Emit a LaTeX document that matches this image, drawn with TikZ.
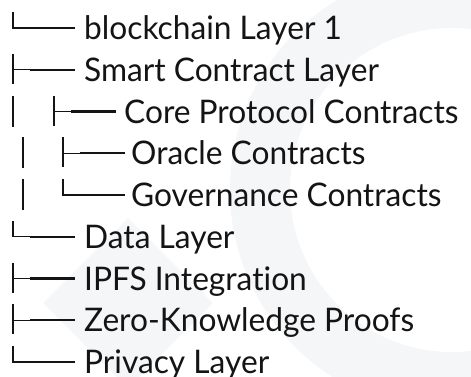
\documentclass[tikz,border=0pt]{standalone}
\usepackage{fontspec}
\setmainfont{Lato}[Ligatures=NoCommon, FakeStretch=0.975]
\definecolor{ink}{HTML}{141414}
\definecolor{emblemgray}{HTML}{F5F6F8}
\tikzset{
  leaf/.style={anchor=base west, inner sep=0pt, text=ink,
    font=\fontsize{32.5}{40}\selectfont},
  twig/.style={draw=ink, line width=1.3pt},
  bar/.style={draw=ink, line width=2.3pt},
  tee/.pic={
    \draw[twig] (0,-16) -- (0,14);
    \draw[twig] (0,0) -- (17,0);
    \draw[bar] (17,0) -- (62,0);
  },
  elbow/.pic={
    \draw[twig] (0,-16) -- (0,0) -- (17,0);
    \draw[bar] (17,0) -- (62,0);
  },
  pipe/.pic={
    \draw[twig] (0,-16) -- (0,15);
  }
}
\begin{document}
\begin{tikzpicture}[x=1pt, y=-1pt]
  \useasboundingbox (0,0) rectangle (471,376);
  % faint emblem in the background
  \fill[emblemgray, even odd rule] (452,190) circle (222) (452,190) circle (162);
  \fill[emblemgray] (43,303) -- (128,218) -- (213,303) -- (128,388) -- cycle;

  % rows of the tree
  \foreach \k/\n in {0/a,1/b,2/c,3/d,4/e,5/f,6/g,7/h,8/i}
    \coordinate (row\n) at (0, 28+41.75*\k);

  % level 0 branches
  \pic at ([xshift=13pt]rowa) {elbow};
  \pic at ([xshift=13pt]rowb) {tee};
  \pic at ([xshift=13pt]rowf) {elbow};
  \pic at ([xshift=13pt]rowg) {tee};
  \pic at ([xshift=13pt]rowh) {tee};
  \pic at ([xshift=13pt]rowi) {elbow};
  % nested branches
  \pic at ([xshift=13pt]rowc) {pipe};
  \pic at ([xshift=54pt]rowc) {tee};
  \pic at ([xshift=23pt]rowd) {pipe};
  \pic at ([xshift=63pt]rowd) {tee};
  \pic at ([xshift=23pt]rowe) {pipe};
  \pic at ([xshift=63pt]rowe) {elbow};

  % labels
  \node[leaf] (l1) at ([xshift=84pt, yshift=-11.5pt]rowa) {blockchain Layer 1};
  \node[leaf] (l2) at ([xshift=84pt, yshift=-11.5pt]rowb) {Smart Contract Layer};
  \node[leaf] (l3) at ([xshift=124pt, yshift=-11.5pt]rowc) {Core Protocol Contracts};
  \node[leaf] (l4) at ([xshift=131pt, yshift=-11.5pt]rowd) {Oracle Contracts};
  \node[leaf] (l5) at ([xshift=131pt, yshift=-11.5pt]rowe) {Governance Contracts};
  \node[leaf] (l6) at ([xshift=84pt, yshift=-11.5pt]rowf) {Data Layer};
  \node[leaf] (l7) at ([xshift=84pt, yshift=-11.5pt]rowg) {IPFS Integration};
  \node[leaf] (l8) at ([xshift=84pt, yshift=-11.5pt]rowh) {Zero-Knowledge Proofs};
  \node[leaf] (l9) at ([xshift=84pt, yshift=-11.5pt]rowi) {Privacy Layer};
\end{tikzpicture}
\end{document}
